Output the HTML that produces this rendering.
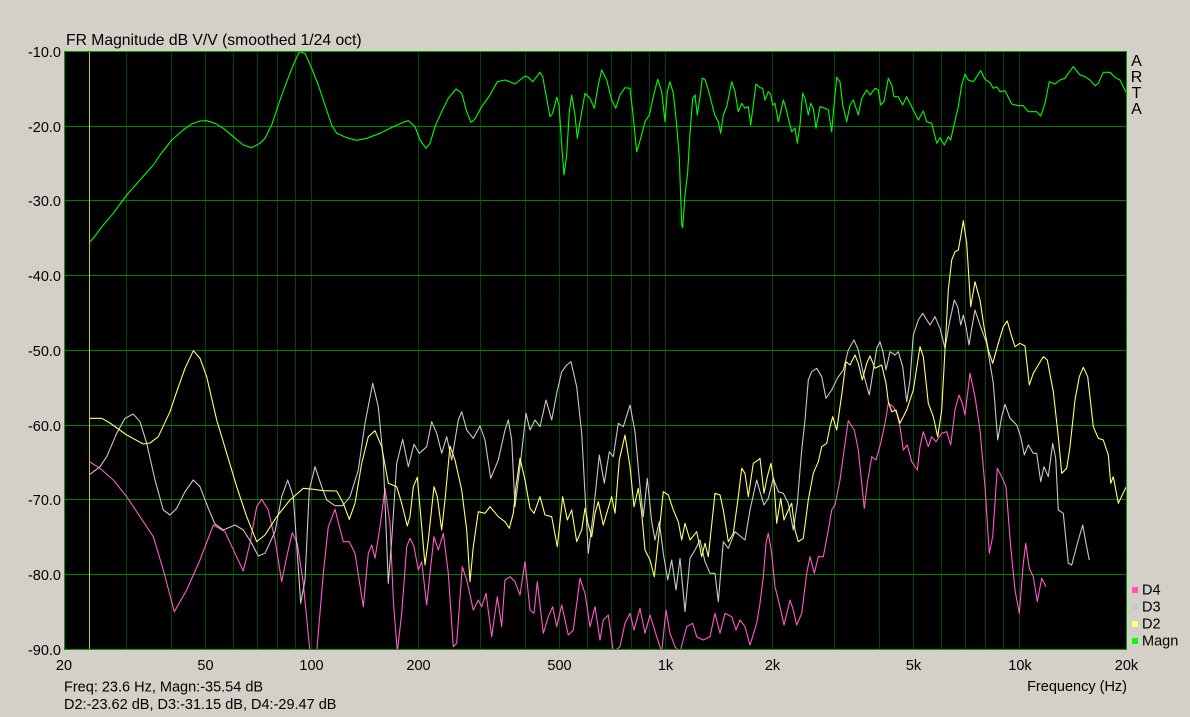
<!DOCTYPE html>
<html>
<head>
<meta charset="utf-8">
<style>
  html, body { margin: 0; padding: 0; background: #d4d0c8; }
  svg { display: block; }
  text { font-family: "Liberation Sans", Arial, sans-serif; fill: #000; }
</style>
</head>
<body>
<svg width="1190" height="717" viewBox="0 0 1190 717" xmlns="http://www.w3.org/2000/svg">
  <rect x="0" y="0" width="1190" height="717" fill="#d4d0c8"/>
  <defs>
    <clipPath id="plot"><rect x="64.5" y="51.5" width="1062" height="597.5"/></clipPath>
  </defs>
  <!-- plot background -->
  <rect x="64" y="51" width="1063" height="599" fill="#000"/>

  <!-- vertical grid lines -->
  <g stroke="#004800" stroke-width="1">
    <line x1="126.5" y1="51" x2="126.5" y2="649"/>
    <line x1="171.5" y1="51" x2="171.5" y2="649"/>
    <line x1="205.5" y1="51" x2="205.5" y2="649"/>
    <line x1="233.5" y1="51" x2="233.5" y2="649"/>
    <line x1="257.5" y1="51" x2="257.5" y2="649"/>
    <line x1="277.5" y1="51" x2="277.5" y2="649"/>
    <line x1="295.5" y1="51" x2="295.5" y2="649"/>
    <line x1="311.5" y1="51" x2="311.5" y2="649"/>
    <line x1="418.5" y1="51" x2="418.5" y2="649"/>
    <line x1="480.5" y1="51" x2="480.5" y2="649"/>
    <line x1="525.5" y1="51" x2="525.5" y2="649"/>
    <line x1="559.5" y1="51" x2="559.5" y2="649"/>
    <line x1="587.5" y1="51" x2="587.5" y2="649"/>
    <line x1="611.5" y1="51" x2="611.5" y2="649"/>
    <line x1="631.5" y1="51" x2="631.5" y2="649"/>
    <line x1="649.5" y1="51" x2="649.5" y2="649"/>
    <line x1="665.5" y1="51" x2="665.5" y2="649"/>
    <line x1="772.5" y1="51" x2="772.5" y2="649"/>
    <line x1="834.5" y1="51" x2="834.5" y2="649"/>
    <line x1="879.5" y1="51" x2="879.5" y2="649"/>
    <line x1="913.5" y1="51" x2="913.5" y2="649"/>
    <line x1="941.5" y1="51" x2="941.5" y2="649"/>
    <line x1="965.5" y1="51" x2="965.5" y2="649"/>
    <line x1="985.5" y1="51" x2="985.5" y2="649"/>
    <line x1="1003.5" y1="51" x2="1003.5" y2="649"/>
    <line x1="1019.5" y1="51" x2="1019.5" y2="649"/>
  </g>
  <!-- horizontal grid lines -->
  <g stroke="#008000" stroke-width="1">
    <line x1="64" y1="126.5" x2="1127" y2="126.5"/>
    <line x1="64" y1="200.5" x2="1127" y2="200.5"/>
    <line x1="64" y1="275.5" x2="1127" y2="275.5"/>
    <line x1="64" y1="350.5" x2="1127" y2="350.5"/>
    <line x1="64" y1="425.5" x2="1127" y2="425.5"/>
    <line x1="64" y1="499.5" x2="1127" y2="499.5"/>
    <line x1="64" y1="574.5" x2="1127" y2="574.5"/>
  </g>

  <!-- cursor -->
  <line x1="89.5" y1="51" x2="89.5" y2="649" stroke="#c8c800" stroke-width="1"/>

  <g clip-path="url(#plot)" fill="none" stroke-width="1.1" stroke-linejoin="round">
    <!-- D4 -->
    <polyline stroke="#ff5ac8" points="90,462 100,468.3 113.3,480 126.7,496.7 140,516.7 153.3,536.7 163.3,570 174.3,611.7 186.7,590 200,560 213.3,525 225,531.7 235,553.3 243.3,571 250,543.3 256.7,506.7 261.7,499.3 268.3,510 275,540 281.7,581.7 286.7,556.7 292.3,532.7 297.3,543.3 303.3,583.3 310,652 316.7,652 323.3,573.3 328.3,526.7 335,509.3 343.3,541.7 349.3,541.7 355,553.3 363.3,606.7 368.3,553.3 371.7,545 375,558.3 380,526.7 385,488.3 390,523.3 393.3,600 397.3,652 401.7,613.3 406.7,546.7 410,538.3 414,546.7 418.3,570 421.7,561.7 426.7,605 430,573.3 434,536.7 438.3,550 443.3,533.3 448.3,573.3 453.3,646.7 456.7,643.3 462.3,566.7 466.7,580 473.3,610 478.3,600 481.7,606.7 486,593.3 491.7,636.7 497.3,596.7 501.7,626.7 505,580 510,576.7 515,581.7 520,595 525,561.7 530,610 534,613.3 537.3,581.7 543.3,633.3 548.3,616.7 552.7,606.7 556.7,626.7 561.7,605 568.3,635 573.3,630 580,578.3 585,593.3 590,626.7 595,606.7 600,640 603.3,620 608.3,615 613.3,652 620,646.7 625,623.3 630,613.3 634,630 640,608.3 645,633.3 650,615 656.7,636.7 661.7,652 666,610 670,633.3 675,646.7 680,652 686.7,626.7 692.7,623.3 696.7,636.7 703.3,640 710,636.7 715,613.3 720,633.3 725,613.3 731.7,616.7 736,630 740,620 745,626.7 750,645 756.7,623.3 760,603.3 763.3,576.7 766,543.3 768.3,533.3 771.7,553.3 775,586.7 780,606.7 784,625 790,600 793.3,610 796.7,625 801.7,613.3 806.7,573.3 810,556.7 814.3,573.3 818.3,556.7 823.3,556.7 828.3,530 831.7,510 835,505 840,480 845,443.3 848.3,420.7 854.3,430 858.3,450 861.7,483.3 864.3,508.3 867.3,483.3 871.7,456.7 876,460 880.7,443.3 885,423.3 888.3,403.3 893.3,406.7 896.7,413.3 900,426.7 903.3,450 907.3,445 911.7,461.7 917.3,470 920,446.7 923.3,431.7 928.3,446.7 931.7,436.7 936,441.7 941.7,433.3 946.7,431.7 950.7,445 955,410 959,395 962.3,403.3 965,415 970,373.3 975,396.7 980,430 985,486.7 989.3,553.3 992.7,536.7 997.3,468.3 1001.7,476.7 1006,486.7 1010.7,546.7 1015,590 1019.3,613.3 1023.3,563.3 1025.7,543.3 1029.3,568.3 1033.3,576.7 1037.3,601.7 1041.7,578.3 1046,586.7"/>
    <!-- D3 -->
    <polyline stroke="#c8c8c8" points="90,474.3 100,466.7 106.7,456.7 116.7,433.3 125,418.3 133.3,414 140,421.7 146.7,443.3 155,480 163.3,510 170,515 176.7,508.3 185,491.7 193.3,480 200,486.7 208.3,508.3 215,524 223.3,530 235,525 243.3,530 251.7,543.3 258.3,556 265,553.3 275,531.7 281.7,496.7 287.7,480 293.3,496.7 297.3,553.3 300.7,603.3 305,580 309.3,490 315,466.7 321.7,486.7 326.7,500 335,505.7 342.7,505.7 350,496.7 358.3,470 365,423.3 372.7,383.3 378.3,406.7 383.3,460 388.3,583.3 391.7,540 396.7,463.3 402.7,439.3 408.3,466.7 414,444.3 419.3,453.3 426.7,446.7 431.7,421.7 436.7,433.3 441.7,453.3 446.7,436.7 451.7,460 458.3,420 461.7,411.7 466.7,430 473.3,438.3 480,426 485,440 490.7,478.3 498.3,460 505,430 508.3,420 511.7,440 515,506.7 520,466.7 526,413.3 530,430 535,420 540,426.7 546,400 551.7,420 556.7,393.3 561.7,371.7 566.7,365 571,361.7 576.7,386.7 581.7,433.3 588.3,553.3 593.3,513.3 599.3,455 604.3,483.3 609.3,451.7 613.3,456.7 618.3,423.3 623.3,426.7 630,405 635,431.7 640,486.7 643.3,516.7 647.3,478.3 651.7,521.7 655,540 659.3,521.7 663.3,553.3 667.7,580 671.7,560 676,590 680,558.3 685,611.7 690,558.3 695,550 700,540 705,561.7 710,573.3 715,573.3 718.3,601.7 723.3,541.7 728.3,548.3 735,531.7 745,540 750,510 756.7,480 760,491.7 764,505 768.3,498.3 773.3,478.3 778.3,491.7 783.3,493.3 788.3,503.3 793.3,530 797.3,503.3 801.7,450 805,420 808.3,380 811.7,371.7 816.7,368.3 821.7,376.7 826,398.3 831.7,390 837.3,378.3 843.3,370 848.3,350 854,340 858.3,350 863.3,373.3 869.3,395 873.3,370 876.7,348.3 880,341.7 883.3,353.3 886,370 890,351.7 895,355 898.3,351.7 902.7,366.7 906.7,401.7 910,380 913.3,335 918.3,320 922.7,313.3 930,325 935,316.7 940,328.3 945,348.3 949.3,323.3 954.3,300 957.7,306.7 960.7,325 963.3,315 966,326.7 969,345 971.7,328.3 975,310 980,325 986.7,343.3 993.3,383.3 997.7,440 1001.7,416.7 1005,404.3 1010,418.3 1016.7,425 1020.7,436.7 1024.3,455 1028.3,445 1033.3,453.3 1036.7,453.3 1040.7,481.7 1044,466.7 1048.3,476.7 1052.7,443.3 1055.7,458.3 1058.3,510 1063.3,513.3 1068.3,563.3 1071.7,565 1078.3,540 1082.7,525 1086,543.3 1089.3,560"/>
    <!-- D2 -->
    <polyline stroke="#ffff70" points="90,418.3 101.7,418.3 110,423 126.7,435 143.3,444 150,443 158.3,436.7 170,411.7 176.7,391.7 185,368.3 193.3,350.7 200,358.3 206.7,376.7 216.7,420 226.7,453.3 236.7,486.7 246.7,516.7 256.7,541.7 265,535 276.7,516.7 290,500 303.3,488.3 313.3,489.3 323.3,490.7 336.7,491 343.3,503.3 349.3,519.3 355,503.3 361.7,463.3 368.3,436.7 375,430.7 381.7,446.7 388.3,483.3 396.7,486.7 401.7,503.3 407.3,526 410,516.7 413.3,486.7 417.3,477.3 421.7,526.7 425,565 428.3,540 434,486.7 437.3,496.7 441.7,530 445,500 450,446 455,460 461.7,490 466.7,530 470,581.7 473.3,546.7 478.3,511.7 485,513.3 490,506.7 498.3,516.7 505,521.7 509.3,528.3 513.3,513.3 516,486.7 520,458.3 525,480 530,508.3 534,513.3 540,496.7 545,515 551.7,516.7 557.3,546.7 562.7,496.7 567.3,520 571.7,510 576.7,541.7 581.7,530 585,508.3 588.3,525 591.7,536.7 595,513.3 598.3,501.7 603.3,525 606.7,513.3 611.7,496.7 615,513.3 619.3,460 625,435 630,466.7 634,506.7 638.3,488.3 641.7,513.3 645,550 650,560 654.3,576.7 658.3,540 663.3,491.7 668.3,495 673.3,510 678.3,521.7 681.7,540 685,523.3 690,540 696.7,531.7 701.7,556.7 705,543.3 708.3,556.7 715,493.3 720,495 723.3,510 728.3,541.7 733.3,533.3 738.3,496.7 741.7,468.3 745,473.3 748.3,496.7 753.3,463.3 758.3,460 760,458.3 764,493.3 767.3,476.7 771,463.3 774,483.3 776.7,523.3 780.7,498.3 784,520 788.3,510 791.7,503.3 795,530 798.3,541.7 803.3,538.3 808.3,500 813.3,473.3 818.3,461.7 821.7,446.7 826.7,443.3 830,426.7 832.7,416.7 836.7,430 841.7,395 846,361.7 850,365 855,355 858.3,363.3 862.3,380 866.7,363.3 870,356 875,368.3 881.7,365 886,383.3 888.3,401.7 891.7,411.7 896,410 900,423.3 906.7,410 913.3,390 920,346.7 923.3,356.7 928.3,403.3 933.3,416.7 937.7,436.7 941.7,410 945,350 948.3,290 951.7,260 955,251.7 958.3,250 961,235 963.3,220.7 966.7,243.3 970.7,306.7 975,281.7 980,300 984,326.7 988.3,350 992.7,363.3 998.3,343.3 1003.3,326.7 1007.3,321 1011.7,336.7 1015,346.7 1020,343.3 1025,346 1029.3,385 1033.3,373.3 1038.3,365 1043.3,356.7 1047.3,360 1053.3,391.7 1058.3,436.7 1061.7,473.3 1066.7,468.3 1070,446.7 1075,400 1079.3,376.7 1083.3,367.3 1087.7,376.7 1093.3,426.7 1098.3,438.3 1103.3,440 1108.3,455 1110.7,483.3 1113.3,476.7 1118.3,503.3 1126,487.3"/>
    <!-- Magn -->
    <polyline stroke="#00ff00" points="90,241.7 93.3,238.3 103.3,225 113.3,213.3 126.7,195 140,180 153.3,165 160,155 171.7,140 183.3,130 191.7,124 200,121 206.7,120.7 215,123.3 223.3,128.3 233.3,136.7 243.3,145 251.7,147.7 260,143.3 265,138.3 271.7,125 278.3,105 286.7,81.7 293.3,65 299.3,51.7 305,53.3 311.7,68.3 318.3,85 325,105 331.7,125 336.7,133.3 346.7,137.7 356.7,140.3 366.7,138.3 380,133.3 393.3,126.7 403.3,122.3 408.3,120.7 413.3,125 415,126.7 420,140 426,148.3 430,143.3 435,126.7 441.7,111.7 448.3,98.3 456,89 461.7,93.3 466.7,111.7 471,122.3 475,119 481.7,106.7 490,95 497.3,81.7 505,80 510,81.7 515,84 520,80 525,76 528.3,77.3 532.7,81.7 536.7,76.7 540,72.3 542.7,76.7 546,95 550,116.7 552.7,113.3 556.7,97.3 559,105 561.7,145 564,175 566.7,155 569.3,111.7 571.7,95 575,115 577.3,138.3 580,121.7 585,93.3 590,98.3 594.3,108.3 598.3,85 601.7,70 606.7,80 611.7,100 615.7,108.3 620,95 625,87.7 630,88.3 632.7,111.7 636.7,151.7 640.7,138.3 645,121.7 649.3,115 653.3,96.7 657.7,79.3 661.7,91.7 665,121.7 667.3,91.7 670,81.7 673.3,93.3 676.7,125 679.3,158.3 681.7,225 682.7,227.7 685,195 687.7,171.7 690,133.3 692.7,98.3 695,95 697.3,115 700,96.7 702.3,78.3 705,79.3 708.3,90 711.7,103.3 715,115.7 718.3,121.7 720.7,133.3 723.3,115 726.7,106.7 731.7,81.7 735,91.7 738.3,111.7 741.7,103.3 745,108.3 748.3,106.7 750.7,125 753.3,105 756,84 760,87.7 762.7,88.3 765,100 768.3,91.7 770.7,94.3 772.7,105 775,103.3 778.3,121.7 780,115 783.3,100 786,108.3 788.3,118.3 791.7,131.7 795,128.3 797.3,143.3 800,125 802.7,93.3 805,98.3 808.3,115 810.7,103.3 813.3,108.3 816,128.3 820,106.7 825,108.3 828.3,110 831.7,131.7 834,105 836.7,77.3 840,81.7 842.7,105 846.7,121.7 850,105 853.3,100 858.3,115 861.7,98.3 866.7,90 870,95 875,88.3 878.3,90 880.7,105 884,101.7 888.3,78.3 891.7,85 894,96.7 898.3,96.7 902.7,105 906.7,96.7 911.7,106.7 918.3,120 923.3,111 926.7,121.7 931.7,123.3 936.7,143.3 940,137.7 944.3,145 948.3,136.7 950.7,140 954,125 958.3,106.7 961.7,85 965,74.3 968.3,80 973.3,81.7 976.7,76.7 980.7,70.7 985,79.3 990,82.7 993.3,88.3 996.7,86.7 1000,91.7 1005,90.7 1011.7,104 1018.3,105.7 1023.3,105.7 1028.3,111.7 1036.7,111.7 1040.7,116 1045,103.3 1049.3,81.7 1055,84 1060,80 1065,78.3 1068.3,73.3 1073.3,66.7 1080,75 1085,76.7 1090,80 1095,85.7 1098.3,83.3 1103.3,72.3 1110,72.3 1115,77.3 1120,80 1126,92.3"/>
  </g>

  <!-- plot border -->
  <rect x="64.5" y="51.5" width="1062" height="598" fill="none" stroke="#00a000" stroke-width="1"/>

  <!-- title -->
  <text x="66" y="45" font-size="15.7">FR Magnitude dB V/V (smoothed 1/24 oct)</text>

  <!-- y tick labels -->
  <g font-size="14.5" text-anchor="end">
    <text x="61" y="57">-10.0</text>
    <text x="61" y="132">-20.0</text>
    <text x="61" y="206">-30.0</text>
    <text x="61" y="281">-40.0</text>
    <text x="61" y="356">-50.0</text>
    <text x="61" y="431">-60.0</text>
    <text x="61" y="505">-70.0</text>
    <text x="61" y="580">-80.0</text>
    <text x="61" y="655">-90.0</text>
  </g>

  <!-- x tick labels -->
  <g font-size="14.5" text-anchor="middle">
    <text x="64" y="670">20</text>
    <text x="205.5" y="670">50</text>
    <text x="311.5" y="670">100</text>
    <text x="418.5" y="670">200</text>
    <text x="559.5" y="670">500</text>
    <text x="665.5" y="670">1k</text>
    <text x="772.5" y="670">2k</text>
    <text x="913.5" y="670">5k</text>
    <text x="1020" y="670">10k</text>
    <text x="1126.5" y="670">20k</text>
  </g>

  <text x="1127" y="691" font-size="14.5" text-anchor="end">Frequency (Hz)</text>

  <!-- status -->
  <text x="64" y="691.5" font-size="14.5">Freq: 23.6 Hz, Magn:-35.54 dB</text>
  <text x="64" y="709" font-size="14.5">D2:-23.62 dB, D3:-31.15 dB, D4:-29.47 dB</text>

  <!-- ARTA -->
  <g font-size="16" text-anchor="middle">
    <text x="1136.5" y="66">A</text>
    <text x="1136.5" y="82">R</text>
    <text x="1136.5" y="98">T</text>
    <text x="1136.5" y="114">A</text>
  </g>

  <!-- legend -->
  <rect x="1132" y="587" width="6" height="6" fill="#ff55bb"/>
  <rect x="1132" y="604" width="6" height="6" fill="#c8c8c8"/>
  <rect x="1132" y="621" width="6" height="6" fill="#ffff80"/>
  <rect x="1132" y="638" width="6" height="6" fill="#00ff00"/>
  <g font-size="14.5">
    <text x="1142" y="594.5">D4</text>
    <text x="1142" y="611.5">D3</text>
    <text x="1142" y="628.5">D2</text>
    <text x="1142" y="645.5">Magn</text>
  </g>
</svg>
</body>
</html>
